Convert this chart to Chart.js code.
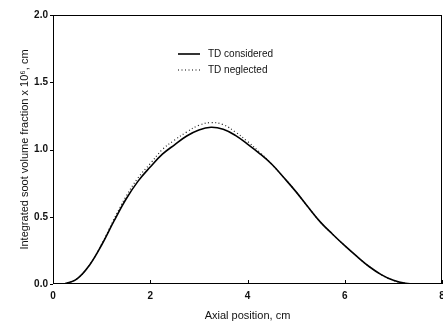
<!DOCTYPE html>
<html>
<head>
<meta charset="utf-8">
<script src="https://cdn.jsdelivr.net/npm/chart.js@4.4.0/dist/chart.umd.min.js"></script>
<style>
  html, body { margin: 0; padding: 0; background: #fff; }
  #wrap { width: 443px; height: 323px; }
</style>
</head>
<body>
<div id="wrap"><canvas id="sootChart" width="443" height="323"></canvas></div>
<script>
// axial positions (cm)
const axialPos = [0, 0.25, 0.5, 0.75, 1.0, 1.25, 1.5, 1.75, 2.0, 2.25, 2.5, 2.75, 3.0, 3.25,
    3.5, 3.75, 4.0, 4.25, 4.5, 4.75, 5.0, 5.25, 5.5, 5.75, 6.0, 6.25, 6.5, 6.75, 7.0, 7.25, 7.5, 8.0];

// integrated soot volume fraction x 10^6, cm
const tdConsidered = [0, 0.004, 0.04, 0.14, 0.29, 0.465, 0.63, 0.765, 0.87, 0.965, 1.035, 1.10, 1.145, 1.165,
    1.15, 1.105, 1.04, 0.97, 0.89, 0.79, 0.685, 0.57, 0.46, 0.37, 0.285, 0.205, 0.13, 0.07, 0.027, 0.005, 0, 0];
const tdNeglected = [0, 0.004, 0.04, 0.142, 0.295, 0.48, 0.65, 0.79, 0.895, 1.00, 1.07, 1.13, 1.18, 1.20,
    1.185, 1.13, 1.06, 0.98, 0.89, 0.79, 0.685, 0.57, 0.46, 0.37, 0.285, 0.205, 0.13, 0.07, 0.027, 0.005, 0, 0];

const xTicks = [0, 2, 4, 6, 8];
const yTicks = [0.0, 0.5, 1.0, 1.5, 2.0];

const toPoints = (xs, ys) => xs.map((x, i) => ({ x: x, y: ys[i] }));

// inside tick marks + frame + legend drawn on top of chart area
const framePlugin = {
    id: 'frame',
    afterDraw(chart) {
        const { ctx, chartArea: a, scales } = chart;
        ctx.save();
        ctx.strokeStyle = '#000';
        ctx.lineWidth = 1;
        ctx.strokeRect(a.left + 0.5, a.top + 0.5, a.right - a.left - 1, a.bottom - a.top - 1);
        ctx.beginPath();
        xTicks.forEach(v => {
            const px = Math.round(scales.x.getPixelForValue(v)) + 0.5;
            ctx.moveTo(px, a.bottom);
            ctx.lineTo(px, a.bottom - 4);
        });
        yTicks.forEach(v => {
            const py = Math.round(scales.y.getPixelForValue(v)) + 0.5;
            ctx.moveTo(a.left, py);
            ctx.lineTo(a.left - 3, py);
        });
        ctx.stroke();

        // legend
        const lx = 178, ly = 54;
        chart.data.datasets.forEach((ds, i) => {
            const y = ly + i * 16;
            ctx.beginPath();
            ctx.lineWidth = ds.borderWidth;
            ctx.setLineDash(ds.borderDash || []);
            ctx.moveTo(lx, y);
            ctx.lineTo(lx + 22, y);
            ctx.stroke();
            ctx.setLineDash([]);
            ctx.fillStyle = '#111';
            ctx.font = '10px "Liberation Sans", Arial, sans-serif';
            ctx.textBaseline = 'middle';
            ctx.fillText(ds.label, lx + 30, y);
        });
        ctx.restore();
    }
};

new Chart(document.getElementById('sootChart').getContext('2d'), {
    type: 'line',
    data: {
        datasets: [{
            label: 'TD considered',
            data: toPoints(axialPos, tdConsidered),
            borderColor: '#000',
            borderWidth: 1.6,
            pointRadius: 0,
            fill: false,
            tension: 0.4
        }, {
            label: 'TD neglected',
            data: toPoints(axialPos, tdNeglected),
            borderColor: '#222',
            borderWidth: 1.2,
            borderDash: [1, 2.5],
            pointRadius: 0,
            fill: false,
            tension: 0.4
        }]
    },
    options: {
        responsive: false,
        animation: false,
        layout: { padding: { top: 15, right: 1, left: 0, bottom: 0 } },
        plugins: {
            legend: { display: false },
            tooltip: { enabled: false }
        },
        scales: {
            x: {
                type: 'linear',
                min: 0,
                max: 8,
                afterBuildTicks: s => { s.ticks = xTicks.map(v => ({ value: v })); },
                afterFit: s => { s.height = 39; s.paddingLeft = 0; s.paddingRight = 0; },
                grid: { display: false, drawTicks: false },
                border: { display: false },
                ticks: {
                    color: '#111',
                    padding: 6,
                    font: { family: '"Liberation Sans", Arial, sans-serif', size: 10, weight: 'bold' }
                },
                title: {
                    display: true,
                    text: 'Axial position, cm',
                    color: '#111',
                    padding: { top: 9, bottom: 0 },
                    font: { family: '"Liberation Sans", Arial, sans-serif', size: 11 }
                }
            },
            y: {
                type: 'linear',
                min: 0,
                max: 2,
                afterBuildTicks: s => { s.ticks = yTicks.map(v => ({ value: v })); },
                afterFit: s => { s.width = 53; s.paddingTop = 0; s.paddingBottom = 0; },
                grid: { display: false, drawTicks: false },
                border: { display: false },
                ticks: {
                    color: '#111',
                    padding: 5,
                    callback: v => v.toFixed(1),
                    font: { family: '"Liberation Sans", Arial, sans-serif', size: 10, weight: 'bold' }
                },
                title: {
                    display: true,
                    text: 'Integrated soot volume fraction x 10\u2076, cm',
                    color: '#111',
                    padding: { top: 18, bottom: 4 },
                    font: { family: '"Liberation Sans", Arial, sans-serif', size: 11 }
                }
            }
        }
    },
    plugins: [framePlugin]
});
</script>
</body>
</html>
